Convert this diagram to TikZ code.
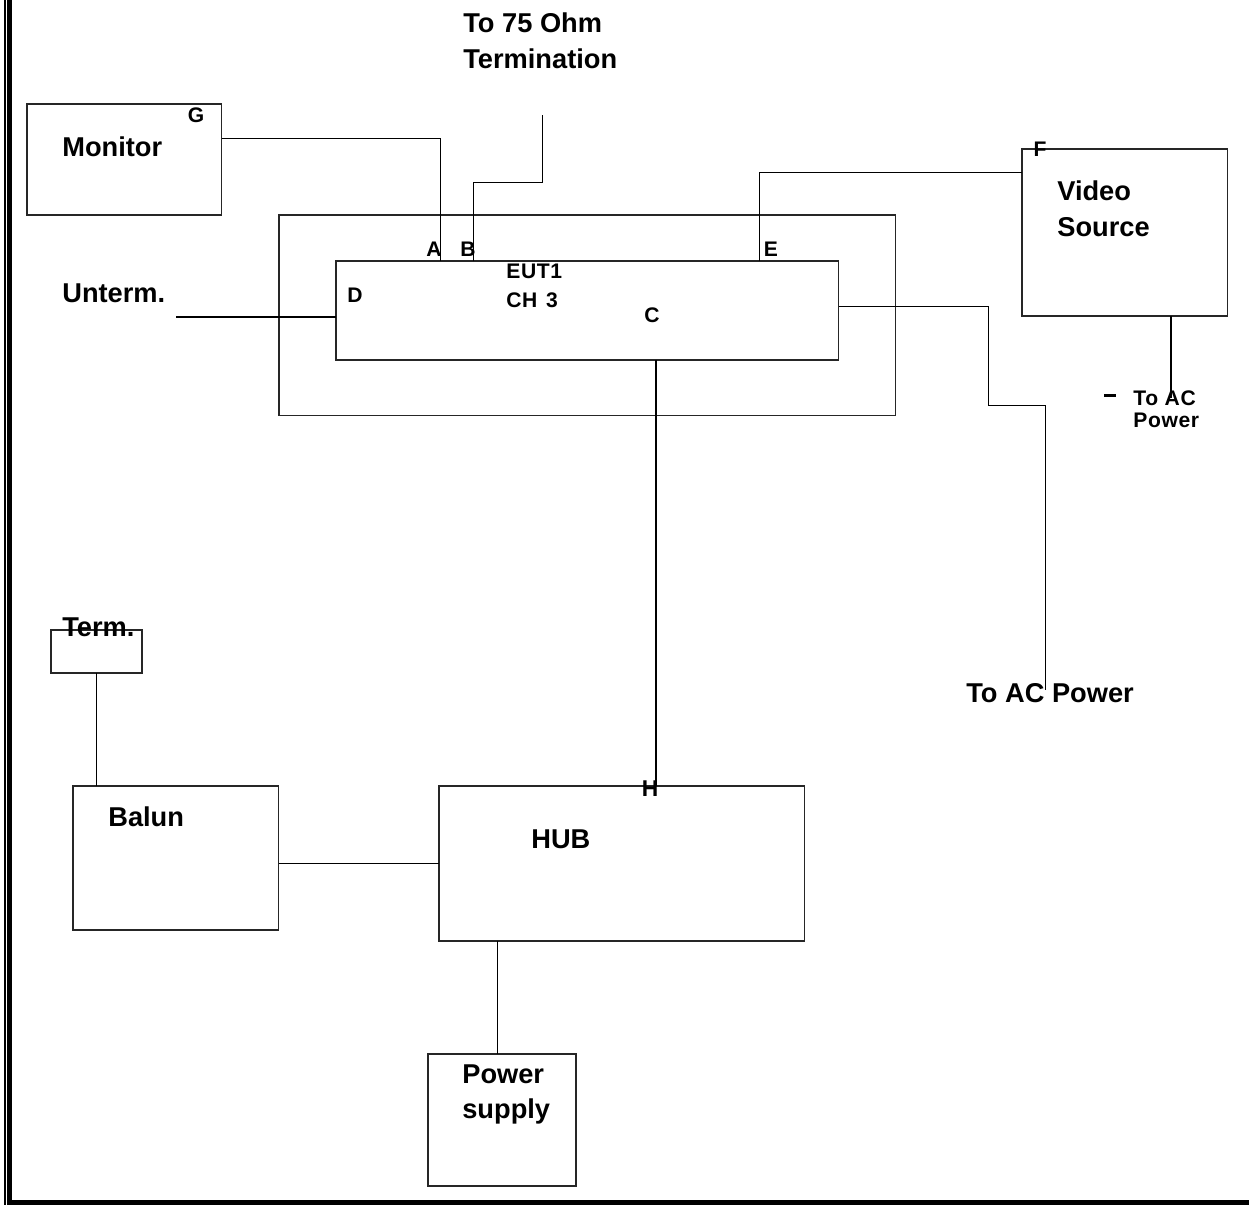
\documentclass[tikz,border=0pt]{standalone}
\usepackage{fontspec}
\setmainfont{Liberation Sans}

\begin{document}
\begin{tikzpicture}[x=0.02cm, y=-0.02cm,
    box/.style={draw=black!85, line width=0.6pt, inner sep=0pt, outer sep=0pt, anchor=north west},
    wire/.style={line width=0.55pt},
    bigtxt/.style={font=\fontsize{15.5}{19}\selectfont\bfseries, inner sep=0pt, anchor=base west},
    midtxt/.style={font=\fontsize{12}{14}\selectfont\bfseries\addfontfeatures{LetterSpace=3}, inner sep=0pt, anchor=base},
    smalltxt/.style={font=\fontsize{12}{13}\selectfont\bfseries\addfontfeatures{LetterSpace=3}, inner sep=0pt, anchor=base west}]
        \useasboundingbox (0,0) rectangle (1249,1205);

        % Page frame
        \draw[line width=1.1pt] (5,0) -- (5,1205);
        \draw[line width=2.4pt] (9.5,0) -- (9.5,1202.5) -- (1249,1202.5);

        % Monitor
        \node[box, minimum width=3.9cm, minimum height=2.22cm] (mon) at (27,104) {};
        \node[bigtxt] (monlbl) at (62,156) {Monitor};
        \node[midtxt] (g) at (196,122) {G};

        % Outer enclosure and EUT
        \node[box, minimum width=12.34cm, minimum height=4.02cm] (encl) at (279,215) {};
        \node[box, minimum width=10.06cm, minimum height=1.98cm] (eut) at (336,261) {};
        \node[midtxt, anchor=base west] (eut1) at (506,278) {EUT1};
        \node[midtxt, anchor=base west] (ch3) at (506,307) {CH\hspace{5pt}3};
        \node[midtxt] (a) at (434,256) {A};
        \node[midtxt] (b) at (468,256) {B};
        \node[midtxt] (c) at (652,322) {C};
        \node[midtxt] (d) at (355,302) {D};
        \node[midtxt] (e) at (771,256) {E};

        % Termination on B
        \node[bigtxt] (t75a) at (463,32) {To 75 Ohm};
        \node[bigtxt] (t75b) at (463,68) {Termination};
        \coordinate (term75) at (542,115);

        % Unterminated port D
        \node[bigtxt] (untlbl) at (62,302) {Unterm.};
        \coordinate (unt) at (176,317);

        % Video source
        \node[box, minimum width=4.12cm, minimum height=3.34cm] (vid) at (1022,149) {};
        \node[bigtxt] (vida) at (1057,200) {Video};
        \node[bigtxt] (vidb) at (1057,236) {Source};
        \node[midtxt] (f) at (1040,156) {F};
        \coordinate (ac2) at (1171,398);
        \node[smalltxt] (ac2a) at (1133,405) {To AC};
        \node[smalltxt] (ac2b) at (1133,427) {Power};
        \draw[line width=1.5pt] (1104,395.5) -- (1116,395.5);

        % AC power of EUT
        \coordinate (ac1) at (1045,690);
        \node[bigtxt] (ac1lbl) at (966,702) {To AC Power};

        % HUB
        \node[box, minimum width=7.32cm, minimum height=3.1cm] (hub) at (439,786) {};
        \node[bigtxt] (hublbl) at (531,848) {HUB};
        \node[midtxt, font=\fontsize{13}{15}\selectfont\bfseries] (h) at (650,796) {H};

        % Balun and Term.
        \node[box, minimum width=4.12cm, minimum height=2.88cm] (bal) at (73,786) {};
        \node[bigtxt] (ballbl) at (108,826) {Balun};
        \node[box, minimum width=1.82cm, minimum height=0.86cm] (term) at (51,630) {};
        \node[bigtxt] (termlbl) at (62,636) {Term.};

        % Power supply
        \node[box, minimum width=2.96cm, minimum height=2.64cm] (psu) at (428,1054) {};
        \node[bigtxt] (psua) at (462,1083) {Power};
        \node[bigtxt] (psub) at (462,1118) {supply};

        % Cables
        \draw[wire] (mon.east |- 0,138) -| (eut.north -| 440,0);
        \draw[wire] (eut.north -| 473,0) |- (542,182) -- (term75);
        \draw[wire] (eut.north -| 759,0) |- (vid.west |- 0,172);
        \draw[wire, line width=0.8pt] (unt) -- (eut.west |- unt);
        \draw[wire] (eut.east |- 0,306) -| (988,405) -| (ac1);
        \draw[wire, line width=0.8pt] (eut.south -| 656,0) -- (hub.north -| 656,0);
        \draw[line width=1.2pt] (vid.south -| ac2) -- (ac2);
        \draw[wire] (term.south) -- (bal.north -| term.south);
        \draw[wire] (bal.east |- 0,863) -- (hub.west |- 0,863);
        \draw[wire] (hub.south -| 497,0) -- (psu.north -| 497,0);
\end{tikzpicture}
\end{document}
